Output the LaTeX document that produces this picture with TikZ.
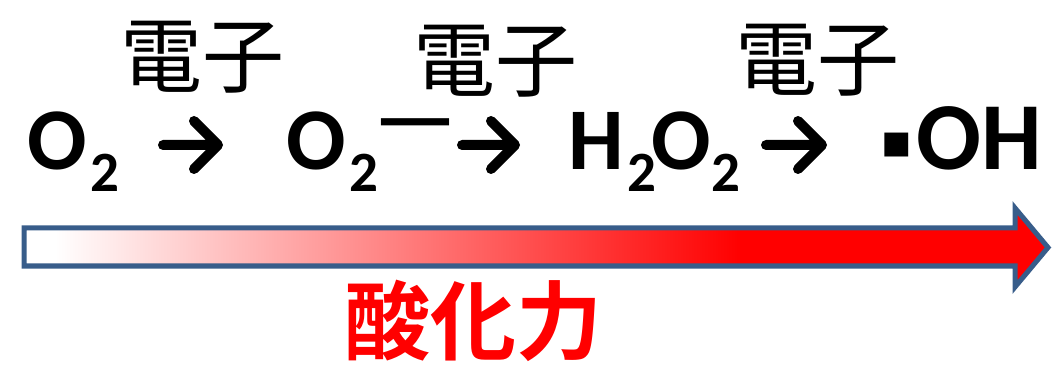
\documentclass[tikz,border=0pt]{standalone}
\usepackage{fontspec}
\setmainfont{Carlito}
\newfontfamily\jp{Noto Sans CJK JP}
\newfontfamily\jpbold{Noto Sans CJK JP Bold}
\newfontfamily\symfont{DejaVu Sans}
\definecolor{arrowblue}{HTML}{385D8A}
\pgfdeclarehorizontalshading{oxgrad}{100bp}{color(0bp)=(white); color(26.5bp)=(white); color(60bp)=(red); color(100bp)=(red)}
\newcommand\chemsub[1]{\raisebox{-22pt}{\fontsize{57}{57}\selectfont #1}}
\begin{document}
\begin{tikzpicture}[x=1pt,y=-1pt,
  chem/.style={font=\fontsize{88}{88}\selectfont\bfseries, inner sep=0pt, anchor=base west},
  chemarrow/.style={line width=10pt, line cap=round, line join=round},
  elec/.style={font=\jp\fontsize{82}{82}\selectfont, inner sep=0pt},
  oxlabel/.style={font=\jpbold\fontsize{86}{86}\selectfont, text=red, inner sep=0pt}]
\useasboundingbox (0,0) rectangle (1054,371);
% big gradient arrow
\shadedraw[shading=oxgrad, draw=arrowblue, line width=5pt, line join=miter]
  (24,228) -- (1015,228) -- (1015,208) -- (1048,247.5) -- (1015,287) -- (1015,266) -- (24,266) -- cycle;
% labels
\node[elec] (e1) at (202,57) {電子};
\node[elec] (e2) at (495,61) {電子};
\node[elec] (e3) at (817,60) {電子};
\node[oxlabel] (ox) at (473,321) {酸化力};
% species
\node[chem] (o2) at (27,170) {O\kern4pt\chemsub{2}};
\node[chem] (o2m) at (286,170) {O\kern4pt\chemsub{2}\kern-11pt\raisebox{24pt}{\fontsize{82}{82}\selectfont\scalebox{2.35}[1]{–}}};
\node[chem] (h2o2) at (568,170) {H\kern4pt\chemsub{2}\kern-5ptO\kern0pt\chemsub{2}};
\node[chem, font=\fontsize{96}{96}\selectfont\bfseries] (oh) at (880,170) {\raisebox{12pt}{\symfont\fontsize{48}{48}\selectfont ▪}\kern4ptOH};
% reaction arrows
\coordinate (a1s) at (163,145); \coordinate (a1e) at (218,145);
\coordinate (a2s) at (462,145); \coordinate (a2e) at (515,145);
\coordinate (a3s) at (766,145); \coordinate (a3e) at (822,145);
\draw[chemarrow] (a1s) -- (a1e) +(-24,-24) -- (a1e) -- +(-24,24);
\draw[chemarrow] (a2s) -- (a2e) +(-24,-24) -- (a2e) -- +(-24,24);
\draw[chemarrow] (a3s) -- (a3e) +(-24,-24) -- (a3e) -- +(-24,24);
\end{tikzpicture}
\end{document}
